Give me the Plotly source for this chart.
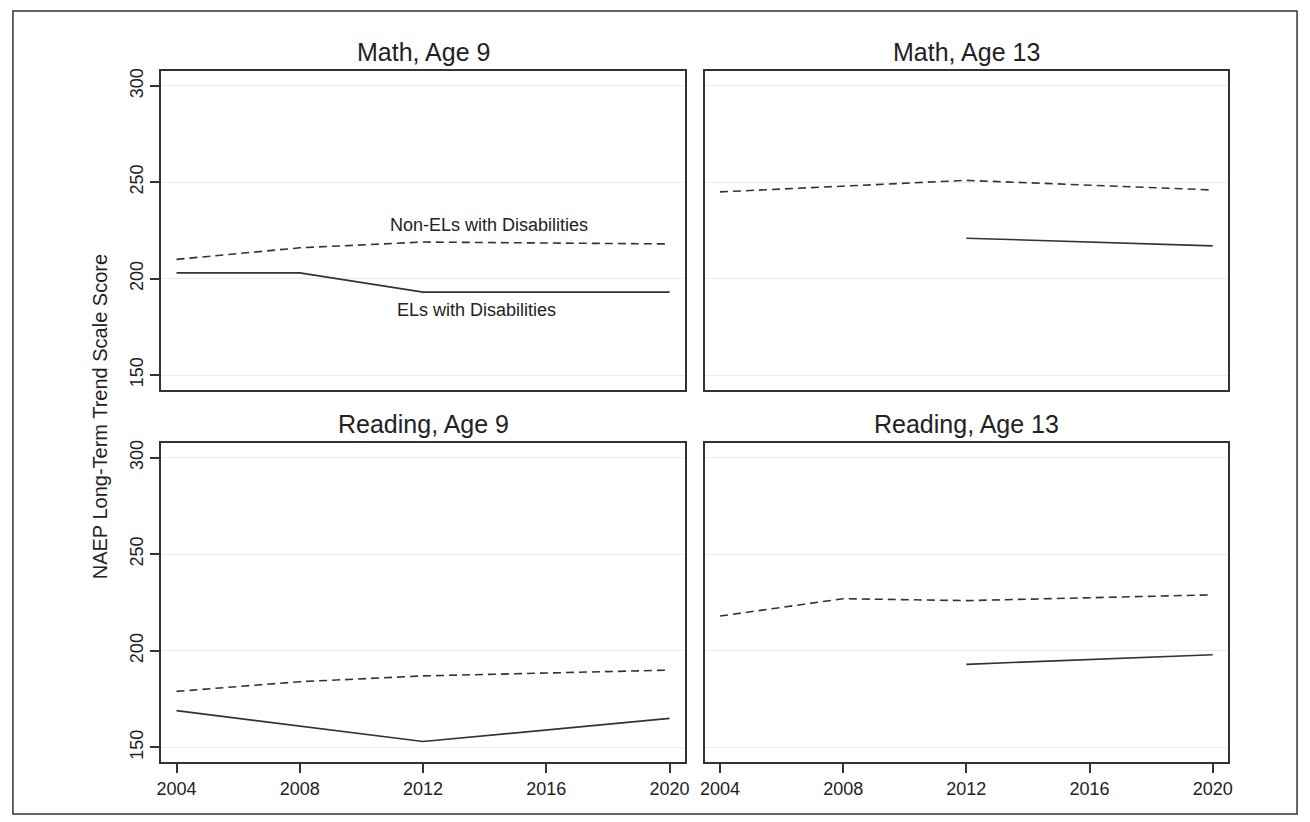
import plotly.graph_objects as go

# ---- data ----
years = [2004, 2008, 2012, 2020]
panel_titles = ["Math, Age 9", "Math, Age 13", "Reading, Age 9", "Reading, Age 13"]
non_el_math9 = [210, 216, 219, 218]
el_math9 = [203, 203, 193, 193]
non_el_math13 = [245, 248, 251, 246]
el_math13 = [None, None, 221, 217]
non_el_read9 = [179, 184, 187, 190]
el_read9 = [169, 161, 153, 165]
non_el_read13 = [218, 227, 226, 229]
el_read13 = [None, None, 193, 198]
x_ticks = [2004, 2008, 2012, 2016, 2020]
y_ticks = [150, 200, 250, 300]
series_names = ["Non-ELs with Disabilities", "ELs with Disabilities"]

W, H = 1310, 822
FONT = "Liberation Sans, Arial, Helvetica, sans-serif"
LINE = "#333333"
TXT = "#222222"

# panel geometry in pixels
left_x = (157.3, 685.2)
right_x = (705.0, 1232.5)
top_y = (68.5, 388.3)
bot_y = (441.7, 762.0)


def xdom(px):
    return [px[0] / W, px[1] / W]


def ydom(py):
    return [1 - py[1] / H, 1 - py[0] / H]


fig = go.Figure()

panels = [
    (non_el_math9, el_math9, "x", "y"),
    (non_el_math13, el_math13, "x2", "y2"),
    (non_el_read9, el_read9, "x3", "y3"),
    (non_el_read13, el_read13, "x4", "y4"),
]
for non, el, xa, ya in panels:
    fig.add_trace(go.Scatter(x=years, y=non, mode="lines", xaxis=xa, yaxis=ya,
                             name=series_names[0], showlegend=False,
                             line=dict(color=LINE, width=1.6, dash="8px,5px")))
    fig.add_trace(go.Scatter(x=years, y=el, mode="lines", xaxis=xa, yaxis=ya,
                             name=series_names[1], showlegend=False,
                             connectgaps=False,
                             line=dict(color=LINE, width=1.6)))

xr = [2003.5, 2020.5]
yr = [142.3, 307.6]

common_x = dict(range=xr, showline=True, mirror=True, linecolor=LINE, linewidth=2,
                showgrid=False, zeroline=False, tickvals=x_ticks,
                tickfont=dict(family=FONT, size=18, color=TXT))
common_y = dict(range=yr, showline=True, mirror=True, linecolor=LINE, linewidth=2,
                showgrid=True, gridcolor="#ebebeb", gridwidth=1.2, zeroline=False,
                tickvals=y_ticks, tickangle=-90,
                tickfont=dict(family=FONT, size=18, color=TXT))

fig.update_layout(
    xaxis=dict(common_x, domain=xdom(left_x), anchor="y", showticklabels=False, ticks=""),
    xaxis2=dict(common_x, domain=xdom(right_x), anchor="y2", showticklabels=False, ticks=""),
    xaxis3=dict(common_x, domain=xdom(left_x), anchor="y3", ticks="outside", ticklen=9,
                tickwidth=1.5, tickcolor=LINE),
    xaxis4=dict(common_x, domain=xdom(right_x), anchor="y4", ticks="outside", ticklen=9,
                tickwidth=1.5, tickcolor=LINE),
    yaxis=dict(common_y, domain=ydom(top_y), anchor="x", ticks="outside", ticklen=9,
               tickwidth=1.5, tickcolor=LINE),
    yaxis2=dict(common_y, domain=ydom(top_y), anchor="x2", showticklabels=False, ticks=""),
    yaxis3=dict(common_y, domain=ydom(bot_y), anchor="x3", ticks="outside", ticklen=9,
                tickwidth=1.5, tickcolor=LINE),
    yaxis4=dict(common_y, domain=ydom(bot_y), anchor="x4", showticklabels=False, ticks=""),
)

annotations = []
# panel titles
title_pos = [
    ((left_x[0] + left_x[1]) / 2, top_y[0] - 19),
    ((right_x[0] + right_x[1]) / 2, top_y[0] - 19),
    ((left_x[0] + left_x[1]) / 2, bot_y[0] - 19),
    ((right_x[0] + right_x[1]) / 2, bot_y[0] - 19),
]
for t, (px, py) in zip(panel_titles, title_pos):
    annotations.append(dict(text=t, x=px / W, y=1 - py / H, xref="paper", yref="paper",
                            xanchor="center", yanchor="middle", showarrow=False,
                            font=dict(family=FONT, size=25, color=TXT)))
# y axis title
annotations.append(dict(text="NAEP Long-Term Trend Scale Score", x=96.5 / W, y=1 - 415 / H,
                        xref="paper", yref="paper", xanchor="center", yanchor="middle",
                        textangle=-90, showarrow=False,
                        font=dict(family=FONT, size=20, color=TXT)))
# series labels in first panel
annotations.append(dict(text=series_names[0], x=2014.15, y=227.6, xref="x", yref="y",
                        showarrow=False, xanchor="center", yanchor="middle",
                        font=dict(family=FONT, size=18, color=TXT)))
annotations.append(dict(text=series_names[1], x=2013.75, y=183.6, xref="x", yref="y",
                        showarrow=False, xanchor="center", yanchor="middle",
                        font=dict(family=FONT, size=18, color=TXT)))

fig.update_layout(
    annotations=annotations,
    width=W, height=H, autosize=False,
    margin=dict(l=0, r=0, t=0, b=0),
    paper_bgcolor="white", plot_bgcolor="white",
    showlegend=False,
    shapes=[dict(type="rect", xref="paper", yref="paper",
                 x0=8 / W, x1=1302 / W, y0=1 - 814 / H, y1=1 - 8 / H,
                 line=dict(color=LINE, width=1.5), fillcolor="rgba(0,0,0,0)", layer="below")],
)

fig.write_html("out.html")
